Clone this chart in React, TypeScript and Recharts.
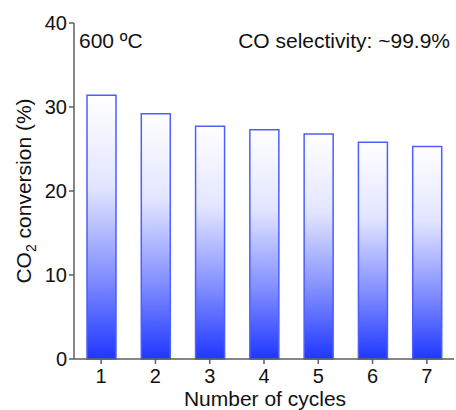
import React from 'react';
import { BarChart, Bar, XAxis, YAxis } from 'recharts';

// cycle number and CO2 conversion (%)
const cycles = ['1', '2', '3', '4', '5', '6', '7'];
const conversion = [31.4, 29.2, 27.7, 27.3, 26.8, 25.8, 25.3];
const yTicks = [0, 10, 20, 30, 40];

const data = cycles.map((c, i) => ({ cycle: c, conversion: conversion[i] }));

const FONT = '"Liberation Sans", Arial, sans-serif';
const AXIS = '#5e5e5e';

export default function App() {
  return (
    <div style={{ position: 'absolute', left: 0, top: 0, width: 456, height: 410, background: '#fff' }}>
      <BarChart
        width={456}
        height={410}
        data={data}
        margin={{ top: 23, right: 2, left: 0, bottom: 0 }}
        style={{ fontFamily: FONT }}
      >
        <defs>
          <linearGradient id="barFill" x1="0" y1="0" x2="0" y2="1">
            <stop offset="0" stopColor="#ffffff" />
            <stop offset="0.35" stopColor="#e2e5ff" />
            <stop offset="0.7" stopColor="#7f8cff" />
            <stop offset="1" stopColor="#1f37ff" />
          </linearGradient>
        </defs>
        <XAxis
          dataKey="cycle"
          height={51}
          tickSize={5}
          tickMargin={5}
          stroke={AXIS}
          strokeWidth={1.5}
          tick={{ fill: '#111', fontSize: 20 }}
        />
        <XAxis xAxisId="top" dataKey="cycle" orientation="top" height={0} tick={false} tickLine={false} stroke={AXIS} strokeWidth={1.5} />
        <YAxis
          domain={[0, 40]}
          ticks={yTicks}
          width={74}
          tickSize={5}
          stroke={AXIS}
          strokeWidth={1.5}
          tick={{ fill: '#111', fontSize: 20 }}
        />
        <YAxis yAxisId="right" orientation="right" width={0} tick={false} tickLine={false} stroke={AXIS} strokeWidth={1.5} />
        <Bar
          dataKey="conversion"
          barSize={29}
          fill="url(#barFill)"
          stroke="#4e5eff"
          strokeWidth={1.5}
          isAnimationActive={false}
        />
        <text x={79} y={48} fontSize={21} fill="#111" fontFamily={FONT}>600 ºC</text>
        <text x={450} y={48} fontSize={21} fill="#111" fontFamily={FONT} textAnchor="end">CO selectivity: ~99.9%</text>
        <text x={265} y={406} fontSize={21} fill="#111" fontFamily={FONT} textAnchor="middle">Number of cycles</text>
        <text x={31} y={191} fontSize={21} fill="#111" fontFamily={FONT} textAnchor="middle" transform="rotate(-90 31 191)">
          CO<tspan fontSize={14} dy={5}>2</tspan><tspan dy={-5}> conversion (%)</tspan>
        </text>
      </BarChart>
    </div>
  );
}
